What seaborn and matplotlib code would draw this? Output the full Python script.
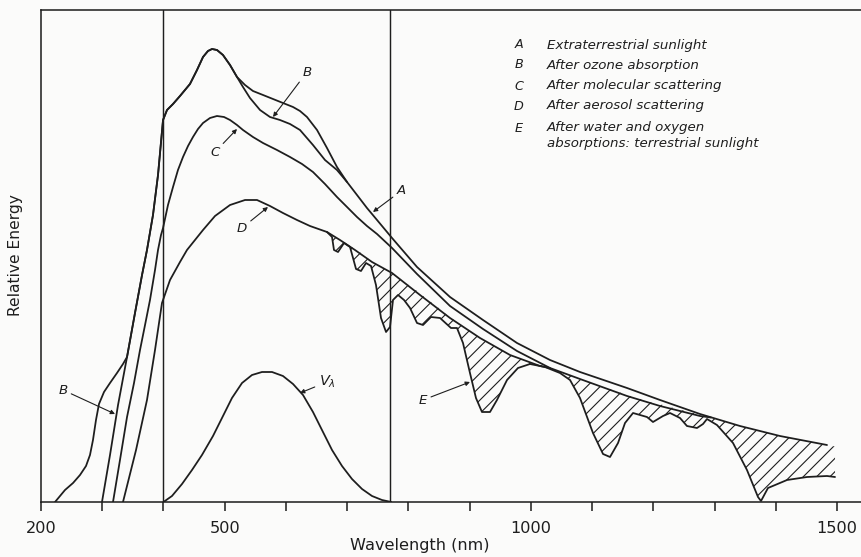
import matplotlib
matplotlib.use("Agg")
import matplotlib.pyplot as plt
import seaborn as sns

# ---- spectra: wavelength (nm) and relative energy -------------------------
# A  extraterrestrial sunlight
A_NM = [222.9, 239.2, 252.3, 263.7, 273.5, 280.0, 284.9, 289.8, 294.7, 302.9,
        312.7, 324.1, 333.9, 340.5, 353.5, 365.0, 373.1, 382.9, 391.1, 399.3,
        405.8, 415.6, 427.0, 443.3, 454.8, 464.6, 472.7, 479.3, 487.4, 497.2,
        508.7, 520.1, 533.2, 546.2, 562.6, 578.9, 595.2, 611.6, 623.0, 634.4,
        650.8, 667.1, 683.4, 699.8, 716.1, 732.4, 748.8, 773.3, 814.1, 868.0,
        921.9, 977.4, 1031.3, 1080.3, 1157.1, 1211.0, 1276.3, 1341.6, 1406.9, 1483.7]
A_VAL = [0, 2.4, 3.8, 5.4, 7.2, 9.4, 12.4, 16.4, 19.6, 22.0,
         23.8, 25.8, 27.6, 29.0, 37.8, 45.4, 50.4, 57.4, 65.4, 76.4,
         78.4, 79.6, 81.2, 83.6, 86.4, 89.0, 90.2, 90.6, 90.4, 89.4,
         87.4, 85.0, 83.4, 82.2, 81.4, 80.6, 79.8, 79.0, 78.2, 77.0,
         74.4, 70.8, 67.0, 64.0, 61.4, 58.8, 56.4, 52.8, 47.0, 41.0,
         36.4, 31.8, 28.4, 26.0, 22.8, 20.4, 17.6, 15.2, 13.2, 11.4]

# B  after ozone absorption
B_NM = [299.6, 312.7, 325.8, 340.5, 353.5, 365.0, 373.1, 382.9, 391.1, 399.3,
        405.8, 415.6, 427.0, 443.3, 454.8, 464.6, 472.7, 479.3, 487.4, 497.2,
        508.7, 520.1, 529.9, 541.3, 557.7, 574.0, 590.3, 606.7, 623.0, 644.2,
        663.8, 683.4, 699.8]
B_VAL = [0, 9.4, 19.4, 29.0, 37.8, 45.4, 50.4, 57.4, 65.4, 76.4,
         78.4, 79.6, 81.2, 83.6, 86.4, 89.0, 90.2, 90.6, 90.4, 89.4,
         87.4, 85.0, 83.0, 80.8, 78.4, 77.0, 76.4, 75.6, 74.4, 71.4,
         68.4, 66.4, 64.0]

# C  after molecular scattering
C_NM = [317.6, 329.0, 340.5, 351.9, 361.7, 369.9, 378.0, 386.2, 391.1, 396.0,
        399.3, 407.4, 415.6, 423.7, 431.9, 440.1, 448.2, 456.4, 464.6, 476.0,
        487.4, 498.9, 508.7, 520.1, 529.9, 546.2, 562.6, 585.4, 606.7, 626.3,
        644.2, 663.8, 683.4, 699.8, 716.1, 732.4, 748.8, 773.3, 814.1, 868.0,
        921.9, 977.4, 1031.3, 1080.3, 1157.1, 1211.0, 1276.3, 1294.2]
C_VAL = [0, 8.4, 17.0, 23.8, 30.4, 35.4, 40.4, 46.4, 50.4, 53.4,
         54.8, 59.4, 63.0, 66.4, 69.0, 71.2, 73.0, 74.6, 75.8, 76.8,
         77.2, 77.0, 76.4, 75.4, 74.4, 73.0, 71.8, 70.4, 69.0, 67.6,
         66.0, 63.6, 61.0, 59.0, 57.0, 55.2, 53.6, 50.8, 45.6, 39.2,
         34.6, 30.2, 26.8, 24.6, 21.2, 19.2, 17.2, 16.9]

# D  after aerosol scattering
D_NM = [333.9, 355.2, 373.1, 386.2, 397.6, 410.7, 427.0, 438.4, 451.5, 464.6,
        484.2, 508.7, 533.2, 552.8, 574.0, 595.2, 618.1, 639.3, 667.1, 688.3,
        712.8, 740.6, 773.3, 819.0, 868.0, 917.0, 966.0, 1015.0, 1031.3]
D_VAL = [0, 10.4, 20.4, 30.4, 39.8, 44.4, 48.0, 50.4, 52.4, 54.4,
         57.2, 59.4, 60.4, 60.4, 59.2, 57.8, 56.4, 55.2, 54.0, 52.4,
         50.4, 48.0, 45.8, 41.4, 36.8, 32.8, 29.4, 27.2, 26.8]

# E  after water and oxygen absorption (terrestrial sunlight),
#    with the unabsorbed level above it over the same wavelengths
E_NM = [667.1, 675.3, 678.5, 685.1, 694.9, 704.7, 709.6, 714.5, 722.6, 730.8,
        739.0, 747.1, 755.3, 763.5, 770.0, 774.9, 783.1, 792.9, 802.7, 814.1,
        823.9, 836.9, 851.7, 869.6, 879.4, 889.2, 900.6, 910.4, 920.2, 933.3,
        944.7, 961.1, 979.0, 998.6, 1023.1, 1047.6, 1064.0, 1080.3, 1101.5, 1117.9,
        1129.3, 1142.4, 1153.8, 1166.9, 1189.7, 1199.5, 1215.9, 1227.3, 1243.6, 1255.0,
        1271.4, 1281.2, 1287.7, 1304.0, 1330.2, 1353.0, 1371.0, 1375.9, 1387.3, 1418.4,
        1451.1, 1483.7, 1496.8]
E_VAL = [54.0, 53.0, 50.4, 50.0, 51.8, 51.0, 48.8, 46.6, 46.2, 47.8,
         47.2, 43.4, 36.8, 34.0, 35.0, 40.4, 41.4, 40.4, 38.8, 35.8,
         35.4, 37.0, 36.8, 34.8, 34.8, 31.8, 25.8, 20.8, 18.0, 18.0,
         20.4, 24.4, 26.8, 27.6, 27.0, 25.8, 24.4, 20.8, 13.8, 9.6,
         9.0, 11.8, 15.8, 17.8, 17.0, 16.0, 17.2, 17.8, 16.8, 15.2,
         14.8, 15.6, 16.6, 15.4, 11.8, 6.4, 1.0, 0.2, 2.8, 4.4,
         5.0, 5.2, 5.0]
E_TOP = [54.0, 53.4, 53.2, 52.8, 52.0, 51.2, 50.8, 50.4, 49.8, 49.0,
         48.2, 47.6, 47.0, 46.4, 46.0, 45.6, 45.0, 44.0, 43.2, 42.2,
         41.2, 40.0, 38.6, 36.8, 36.0, 35.2, 34.2, 33.4, 32.6, 31.6,
         30.8, 29.8, 28.8, 27.8, 27.2, 26.0, 25.4, 24.6, 23.6, 23.0,
         22.6, 22.0, 21.6, 21.0, 20.2, 19.8, 19.4, 19.0, 18.4, 18.2,
         17.6, 17.2, 16.8, 16.6, 15.6, 14.8, 14.3, 14.1, 13.8, 12.9,
         12.2, 11.4, 11.1]

# V_lambda  photopic eye sensitivity
V_NM = [400.0, 413.9, 430.3, 446.6, 462.9, 480.9, 495.6, 511.9, 528.3, 544.6,
        560.9, 577.3, 595.2, 611.6, 627.9, 644.2, 658.9, 675.3, 691.6, 707.9,
        724.3, 740.6, 756.9, 772.0]
V_VAL = [0, 1.2, 3.6, 6.4, 9.4, 13.2, 16.8, 20.8, 23.8, 25.4,
         26.0, 26.0, 25.2, 23.6, 21.4, 18.0, 14.4, 10.4, 7.2, 4.6,
         2.6, 1.2, 0.4, 0]

# visible band limits
VIS_EDGES = [400, 770]

# axis ticks
TICK_NM = list(range(200, 1501, 100))
LABELLED_NM = [200, 500, 1000, 1500]

LEGEND_KEYS = ["A", "B", "C", "D", "E", ""]
LEGEND_TEXT = ["Extraterrestrial sunlight",
               "After ozone absorption",
               "After molecular scattering",
               "After aerosol scattering",
               "After water and oxygen",
               "absorptions: terrestrial sunlight"]

# ---- figure ----------------------------------------------------------------
INK = "#1e1e1e"
PAPER = "#fbfbfa"
LW = 1.6
DPI = 80
W, H = 861, 557

sns.set_theme(style="ticks")
plt.rcParams["font.family"] = ["DejaVu Sans"]
plt.rcParams["mathtext.fontset"] = "dejavusans"
plt.rcParams["hatch.linewidth"] = 1.0
plt.rcParams["hatch.color"] = INK

fig = plt.figure(figsize=(W / DPI, H / DPI), dpi=DPI, facecolor=PAPER)
ax = fig.add_axes([41 / W, (H - 502) / H, (W - 41) / W, (502 - 10) / H])
ax.set_facecolor(PAPER)

line_kw = dict(ax=ax, color=INK, linewidth=LW, sort=False, estimator=None,
               legend=False)

# hatched absorption bands between the scattered spectrum and E
ax.fill_between(E_NM, E_VAL, E_TOP, facecolor="none", edgecolor=INK,
                hatch="//", linewidth=0)

sns.lineplot(x=A_NM, y=A_VAL, **line_kw)
sns.lineplot(x=B_NM, y=B_VAL, **line_kw)
sns.lineplot(x=C_NM, y=C_VAL, **line_kw)
sns.lineplot(x=D_NM, y=D_VAL, **line_kw)
sns.lineplot(x=E_NM, y=E_VAL, **line_kw)
sns.lineplot(x=V_NM, y=V_VAL, **line_kw)

for edge in VIS_EDGES:
    ax.axvline(edge, color=INK, linewidth=1.3)

# curve labels with pointer arrows
arrow = dict(arrowstyle="-|>", color=INK, lw=1.0, mutation_scale=8,
             shrinkA=1, shrinkB=0)
label_kw = dict(fontsize=12, fontstyle="italic", color=INK,
                ha="center", va="center", arrowprops=arrow)
ax.annotate("A", xy=(742.2, 58.0), xytext=(788.0, 62.2), **label_kw)
ax.annotate("B", xy=(578.9, 77.0), xytext=(634.4, 86.0), **label_kw)
ax.annotate("C", xy=(520.1, 74.6), xytext=(484.2, 70.0), **label_kw)
ax.annotate("D", xy=(570.7, 59.0), xytext=(528.3, 54.8), **label_kw)
ax.annotate("B", xy=(320.9, 17.6), xytext=(235.9, 22.4), **label_kw)
ax.annotate("E", xy=(900.6, 24.0), xytext=(823.9, 20.4), **label_kw)
ax.annotate(r"$V_{\lambda}$", xy=(623.0, 21.8), xytext=(667.0, 24.0),
            **{**label_kw, "fontsize": 13})

# legend block
rows_y = [45, 65, 86, 106, 128, 143]
for key, text, y in zip(LEGEND_KEYS, LEGEND_TEXT, rows_y):
    fy = 1 - y / H
    fig.text(519 / W, fy, key, fontsize=11.5, fontstyle="italic",
             color=INK, ha="center", va="center")
    fig.text(547 / W, fy, text, fontsize=12, fontstyle="italic",
             color=INK, ha="left", va="center")

# axes
ax.set_xlim(200, 200 + (W - 41) * 1.6332)
ax.set_ylim(0, (502 - 10) / 5)
ax.set_xticks(TICK_NM)
ax.set_xticklabels([str(t) if t in LABELLED_NM else "" for t in TICK_NM])
ax.set_yticks([])
ax.tick_params(axis="x", direction="out", length=8, width=1.4, color=INK,
               labelsize=14.5, labelcolor=INK, pad=9)
for side in ("left", "bottom", "top"):
    ax.spines[side].set_color(INK)
    ax.spines[side].set_linewidth(1.4)
ax.spines["right"].set_visible(False)

ax.set_xlabel("Wavelength (nm)", fontsize=14.5, color=INK)
ax.xaxis.set_label_coords((420 - 41) / (W - 41), -0.074)
ax.set_ylabel("Relative Energy", fontsize=14, color=INK)
ax.yaxis.set_label_coords(-0.022, 0.502)

fig.savefig("out.png", dpi=DPI, facecolor=PAPER)
